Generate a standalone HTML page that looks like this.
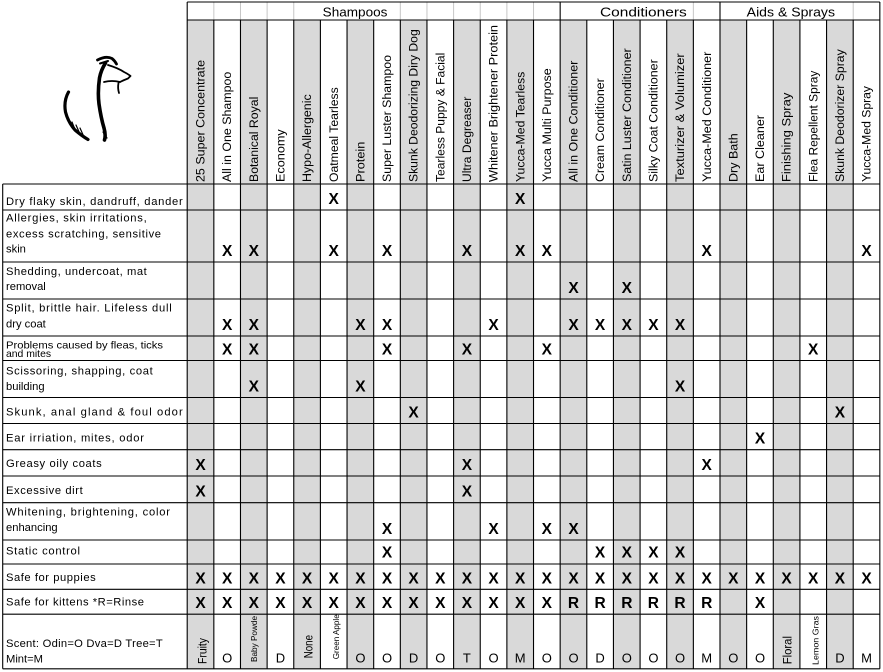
<!DOCTYPE html>
<html><head><meta charset="utf-8"><style>
html,body{margin:0;padding:0;background:#fff;}
svg{display:block;}
</style></head><body>
<svg width="883" height="672" viewBox="0 0 883 672" xmlns="http://www.w3.org/2000/svg">
<rect width="883" height="672" fill="#fff"/>
<!-- gray columns -->
<g fill="#d9d9d9">
<rect x="187.2" y="20" width="26.64" height="648.8"/>
<rect x="240.48" y="20" width="26.64" height="648.8"/>
<rect x="293.76" y="20" width="26.64" height="648.8"/>
<rect x="347.04" y="20" width="26.64" height="648.8"/>
<rect x="400.32" y="20" width="26.64" height="648.8"/>
<rect x="453.6" y="20" width="26.64" height="648.8"/>
<rect x="506.88" y="20" width="26.64" height="648.8"/>
<rect x="560.16" y="20" width="26.64" height="648.8"/>
<rect x="613.44" y="20" width="26.64" height="648.8"/>
<rect x="666.72" y="20" width="26.64" height="648.8"/>
<rect x="720" y="20" width="26.64" height="648.8"/>
<rect x="773.28" y="20" width="26.64" height="648.8"/>
<rect x="826.56" y="20" width="26.64" height="648.8"/>
</g>
<!-- top row light gridlines -->
<path stroke="#c6c6c6" stroke-width="1" fill="none" d="M213.84 2V20M240.48 2V20M267.12 2V20M293.76 2V20M400.32 2V20M426.96 2V20M453.6 2V20M480.24 2V20M506.88 2V20M533.52 2V20M693.36 2V20M853.2 2V20"/>
<!-- black grid -->
<path stroke="#000" stroke-width="1.1" fill="none" d="
M187.2 2H879.84M187.2 20H879.84
M2.7 184H879.84M2.7 210H879.84M2.7 262H879.84M2.7 299H879.84M2.7 336H879.84M2.7 360.5H879.84M2.7 397.5H879.84M2.7 423.5H879.84M2.7 449.7H879.84M2.7 476H879.84M2.7 502.7H879.84M2.7 540H879.84M2.7 564H879.84M2.7 589.3H879.84M2.7 614.2H879.84M2.7 668.8H879.84
M2.7 184V668.8
M187.2 2V668.8M879.84 2V668.8M560.16 2V20M720 2V20
M213.84 20V668.8M240.48 20V668.8M267.12 20V668.8M293.76 20V668.8M320.4 20V668.8M347.04 20V668.8M373.68 20V668.8M400.32 20V668.8M426.96 20V668.8M453.6 20V668.8M480.24 20V668.8M506.88 20V668.8M533.52 20V668.8M560.16 20V668.8M586.8 20V668.8M613.44 20V668.8M640.08 20V668.8M666.72 20V668.8M693.36 20V668.8M720 20V668.8M746.64 20V668.8M773.28 20V668.8M799.92 20V668.8M826.56 20V668.8M853.2 20V668.8"/>

<!-- logo -->
<g fill="none" stroke="#000" stroke-linecap="round" stroke-linejoin="round">
<path d="M97.5 60 Q106 55.5 112 58.5 Q115 61 116.5 64" stroke-width="2.8"/>
<path d="M100 63.5 L108 61" stroke-width="2"/>
<path d="M105.5 63 Q101 70 99.5 78 Q97.5 92 99 104 Q101 118 104 128 Q106 135 104.5 140" stroke-width="3.6"/>
<path d="M108 65 Q118 68 124 72 Q128 74 130.5 76 L128 78.5 Q124 80 120 82" stroke-width="1.8"/>
<path d="M104 82 Q112 80 120 82" stroke-width="1.8"/>
<path d="M118.5 83 Q117.5 88 119 93" stroke-width="1.8"/>
<path d="M68.5 92 Q63.5 101 65.5 112 Q68 122 75 130 Q82 136 88 139.5" stroke-width="3.2"/>
<path d="M72 122 L76 132 M76 125 L80 134 M80 128 L84 137" stroke-width="1.2"/>
<path d="M103 132 L107 138" stroke-width="1.2"/>
</g>

<!-- group headers -->
<g font-family="Liberation Sans, Arial, sans-serif" font-size="13" fill="#000">
<text x="322.7" y="16.5" textLength="64.7" lengthAdjust="spacingAndGlyphs">Shampoos</text>
<text x="600" y="16.5" textLength="86.7" lengthAdjust="spacingAndGlyphs">Conditioners</text>
<text x="746.7" y="16.5" textLength="88.3" lengthAdjust="spacingAndGlyphs">Aids &amp; Sprays</text>
</g>

<!-- rotated column headers -->
<g font-family="Liberation Sans, Arial, sans-serif" font-size="12.4" fill="#000">
<text transform="translate(204.6,182) rotate(-90)" textLength="122" lengthAdjust="spacingAndGlyphs">25 Super Concentrate</text>
<text transform="translate(231.2,182) rotate(-90)" textLength="110.3" lengthAdjust="spacingAndGlyphs">All in One Shampoo</text>
<text transform="translate(257.9,182) rotate(-90)" textLength="85.3" lengthAdjust="spacingAndGlyphs">Botanical Royal</text>
<text transform="translate(284.5,182) rotate(-90)" textLength="52.7" lengthAdjust="spacingAndGlyphs">Economy</text>
<text transform="translate(311.2,182) rotate(-90)" textLength="87.7" lengthAdjust="spacingAndGlyphs">Hypo-Allergenic</text>
<text transform="translate(337.8,182) rotate(-90)" textLength="94.7" lengthAdjust="spacingAndGlyphs">Oatmeal Tearless</text>
<text transform="translate(364.4,182) rotate(-90)" textLength="40.3" lengthAdjust="spacingAndGlyphs">Protein</text>
<text transform="translate(391.1,182) rotate(-90)" textLength="127" lengthAdjust="spacingAndGlyphs">Super Luster Shampoo</text>
<text transform="translate(417.7,182) rotate(-90)" textLength="152.7" lengthAdjust="spacingAndGlyphs">Skunk Deodorizing Diry Dog</text>
<text transform="translate(444.4,182) rotate(-90)" textLength="129.3" lengthAdjust="spacingAndGlyphs">Tearless Puppy &amp; Facial</text>
<text transform="translate(471,182) rotate(-90)" textLength="85.3" lengthAdjust="spacingAndGlyphs">Ultra Degreaser</text>
<text transform="translate(497.6,182) rotate(-90)" textLength="157" lengthAdjust="spacingAndGlyphs">Whitener Brightener Protein</text>
<text transform="translate(524.3,182) rotate(-90)" textLength="110.3" lengthAdjust="spacingAndGlyphs">Yucca-Med Tearless</text>
<text transform="translate(550.9,182) rotate(-90)" textLength="113.7" lengthAdjust="spacingAndGlyphs">Yucca Multi Purpose</text>
<text transform="translate(577.6,182) rotate(-90)" textLength="121.3" lengthAdjust="spacingAndGlyphs">All in One Conditioner</text>
<text transform="translate(604.2,182) rotate(-90)" textLength="103.7" lengthAdjust="spacingAndGlyphs">Cream Conditioner</text>
<text transform="translate(630.8,182) rotate(-90)" textLength="133.7" lengthAdjust="spacingAndGlyphs">Satin Luster Conditioner</text>
<text transform="translate(657.5,182) rotate(-90)" textLength="122.7" lengthAdjust="spacingAndGlyphs">Silky Coat Conditioner</text>
<text transform="translate(684.1,182) rotate(-90)" textLength="128.7" lengthAdjust="spacingAndGlyphs">Texturizer &amp; Volumizer</text>
<text transform="translate(710.8,182) rotate(-90)" textLength="130.3" lengthAdjust="spacingAndGlyphs">Yucca-Med Conditioner</text>
<text transform="translate(737.4,182) rotate(-90)" textLength="48.7" lengthAdjust="spacingAndGlyphs">Dry Bath</text>
<text transform="translate(764,182) rotate(-90)" textLength="67" lengthAdjust="spacingAndGlyphs">Ear Cleaner</text>
<text transform="translate(790.7,182) rotate(-90)" textLength="89.3" lengthAdjust="spacingAndGlyphs">Finishing Spray</text>
<text transform="translate(817.3,182) rotate(-90)" textLength="111.3" lengthAdjust="spacingAndGlyphs">Flea Repellent Spray</text>
<text transform="translate(844,182) rotate(-90)" textLength="132.7" lengthAdjust="spacingAndGlyphs">Skunk Deodorizer Spray</text>
<text transform="translate(870.6,182) rotate(-90)" textLength="96" lengthAdjust="spacingAndGlyphs">Yucca-Med Spray</text>
</g>

<!-- row labels -->
<g font-family="Liberation Sans, Arial, sans-serif" font-size="11.2" fill="#000">
<text x="6" y="205" textLength="176.7" lengthAdjust="spacing">Dry flaky skin, dandruff, dander</text>
<text x="6" y="221.7" textLength="140.7" lengthAdjust="spacing">Allergies, skin irritations,</text>
<text x="6" y="237.3" textLength="155" lengthAdjust="spacing">excess scratching, sensitive</text>
<text x="6" y="252.7">skin</text>
<text x="6" y="275" textLength="140.7" lengthAdjust="spacing">Shedding, undercoat, mat</text>
<text x="6" y="290">removal</text>
<text x="6" y="311.7" textLength="165.7" lengthAdjust="spacing">Split, brittle hair. Lifeless dull</text>
<text x="6" y="327.7">dry coat</text>
<text x="6" y="348.3" font-size="10.4" textLength="157" lengthAdjust="spacingAndGlyphs">Problems caused by fleas, ticks</text>
<text x="6" y="357" font-size="10.4">and mites</text>
<text x="6" y="374.7" textLength="146.7" lengthAdjust="spacing">Scissoring, shapping, coat</text>
<text x="6" y="390">building</text>
<text x="6" y="415.3" textLength="176.7" lengthAdjust="spacing">Skunk, anal gland &amp; foul odor</text>
<text x="6" y="441.3" textLength="138" lengthAdjust="spacing">Ear irriation, mites, odor</text>
<text x="6" y="467" textLength="95.7" lengthAdjust="spacing">Greasy oily coats</text>
<text x="6" y="494" textLength="76.7" lengthAdjust="spacing">Excessive dirt</text>
<text x="6" y="515.3" textLength="164" lengthAdjust="spacing">Whitening, brightening, color</text>
<text x="6" y="531">enhancing</text>
<text x="6" y="554.3" textLength="74" lengthAdjust="spacing">Static control</text>
<text x="6" y="581" textLength="89.7" lengthAdjust="spacing">Safe for puppies</text>
<text x="6" y="605.7" textLength="138" lengthAdjust="spacing">Safe for kittens *R=Rinse</text>
<text x="6" y="647" textLength="156.7" lengthAdjust="spacing">Scent: Odin=O Dva=D Tree=T</text>
<text x="6" y="662.7">Mint=M</text>
</g>

<!-- X marks -->
<g font-family="Liberation Sans, Arial, sans-serif" font-size="15.5" font-weight="bold" fill="#000" text-anchor="middle">
<text x="333.7" y="204">X</text><text x="520.2" y="204">X</text>

<text x="227.2" y="256">X</text><text x="253.8" y="256">X</text><text x="333.7" y="256">X</text><text x="387" y="256">X</text><text x="466.9" y="256">X</text><text x="520.2" y="256">X</text><text x="546.8" y="256">X</text><text x="706.7" y="256">X</text><text x="866.5" y="256">X</text>

<text x="573.5" y="293">X</text><text x="626.8" y="293">X</text>

<text x="227.2" y="330">X</text><text x="253.8" y="330">X</text><text x="360.4" y="330">X</text><text x="387" y="330">X</text><text x="493.6" y="330">X</text><text x="573.5" y="330">X</text><text x="600.1" y="330">X</text><text x="626.8" y="330">X</text><text x="653.4" y="330">X</text><text x="680" y="330">X</text>

<text x="227.2" y="354.5">X</text><text x="253.8" y="354.5">X</text><text x="387" y="354.5">X</text><text x="466.9" y="354.5">X</text><text x="546.8" y="354.5">X</text><text x="813.2" y="354.5">X</text>

<text x="253.8" y="391.5">X</text><text x="360.4" y="391.5">X</text><text x="680" y="391.5">X</text>

<text x="413.6" y="417.5">X</text><text x="839.9" y="417.5">X</text>

<text x="760" y="443.7">X</text>

<text x="200.5" y="470">X</text><text x="466.9" y="470">X</text><text x="706.7" y="470">X</text>

<text x="200.5" y="496.7">X</text><text x="466.9" y="496.7">X</text>

<text x="387" y="534">X</text><text x="493.6" y="534">X</text><text x="546.8" y="534">X</text><text x="573.5" y="534">X</text>

<text x="387" y="557.5">X</text><text x="600.1" y="557.5">X</text><text x="626.8" y="557.5">X</text><text x="653.4" y="557.5">X</text><text x="680" y="557.5">X</text>

<text x="200.5" y="583.3">X</text><text x="227.2" y="583.3">X</text><text x="253.8" y="583.3">X</text><text x="280.4" y="583.3">X</text><text x="307.1" y="583.3">X</text><text x="333.7" y="583.3">X</text><text x="360.4" y="583.3">X</text><text x="387" y="583.3">X</text><text x="413.6" y="583.3">X</text><text x="440.3" y="583.3">X</text><text x="466.9" y="583.3">X</text><text x="493.6" y="583.3">X</text><text x="520.2" y="583.3">X</text><text x="546.8" y="583.3">X</text><text x="573.5" y="583.3">X</text><text x="600.1" y="583.3">X</text><text x="626.8" y="583.3">X</text><text x="653.4" y="583.3">X</text><text x="680" y="583.3">X</text><text x="706.7" y="583.3">X</text><text x="733.3" y="583.3">X</text><text x="760" y="583.3">X</text><text x="786.6" y="583.3">X</text><text x="813.2" y="583.3">X</text><text x="839.9" y="583.3">X</text><text x="866.5" y="583.3">X</text>

<text x="200.5" y="608.2">X</text><text x="227.2" y="608.2">X</text><text x="253.8" y="608.2">X</text><text x="280.4" y="608.2">X</text><text x="307.1" y="608.2">X</text><text x="333.7" y="608.2">X</text><text x="360.4" y="608.2">X</text><text x="387" y="608.2">X</text><text x="413.6" y="608.2">X</text><text x="440.3" y="608.2">X</text><text x="466.9" y="608.2">X</text><text x="493.6" y="608.2">X</text><text x="520.2" y="608.2">X</text><text x="546.8" y="608.2">X</text><text x="573.5" y="608.2">R</text><text x="600.1" y="608.2">R</text><text x="626.8" y="608.2">R</text><text x="653.4" y="608.2">R</text><text x="680" y="608.2">R</text><text x="706.7" y="608.2">R</text><text x="760" y="608.2">X</text>
</g>

<!-- scent letters -->
<g font-family="Liberation Sans, Arial, sans-serif" font-size="13" fill="#000" text-anchor="middle">
<text x="227.2" y="662.7">O</text>
<text x="280.4" y="662.7">D</text>
<text x="360.4" y="662.7">O</text>
<text x="387" y="662.7">O</text>
<text x="413.6" y="662.7">D</text>
<text x="440.3" y="662.7">O</text>
<text x="466.9" y="662.7">T</text>
<text x="493.6" y="662.7">O</text>
<text x="520.2" y="662.7">M</text>
<text x="546.8" y="662.7">O</text>
<text x="573.5" y="662.7">O</text>
<text x="600.1" y="662.7">D</text>
<text x="626.8" y="662.7">O</text>
<text x="653.4" y="662.7">O</text>
<text x="680" y="662.7">O</text>
<text x="706.7" y="662.7">M</text>
<text x="733.3" y="662.7">O</text>
<text x="760" y="662.7">O</text>
<text x="839.9" y="662.7">D</text>
<text x="866.5" y="662.7">M</text>
</g>

<!-- rotated scent names -->
<g font-family="Liberation Sans, Arial, sans-serif" fill="#000">
<text font-size="11.5" transform="translate(206.5,664) rotate(-90)" textLength="26" lengthAdjust="spacingAndGlyphs">Fruity</text>
<text font-size="8" transform="translate(257,662) rotate(-90)" textLength="46" lengthAdjust="spacingAndGlyphs">Baby Powde</text>
<text font-size="11.5" transform="translate(312.3,658.3) rotate(-90)" textLength="23.3" lengthAdjust="spacingAndGlyphs">None</text>
<text font-size="8" transform="translate(339,659.3) rotate(-90)" textLength="45" lengthAdjust="spacingAndGlyphs">Green Apple</text>
<text font-size="11.5" transform="translate(791.7,664.3) rotate(-90)" textLength="28.3" lengthAdjust="spacingAndGlyphs">Floral</text>
<text font-size="8" transform="translate(818.3,665) rotate(-90)" textLength="49" lengthAdjust="spacingAndGlyphs">Lemon Gras</text>
</g>
</svg>
</body></html>
